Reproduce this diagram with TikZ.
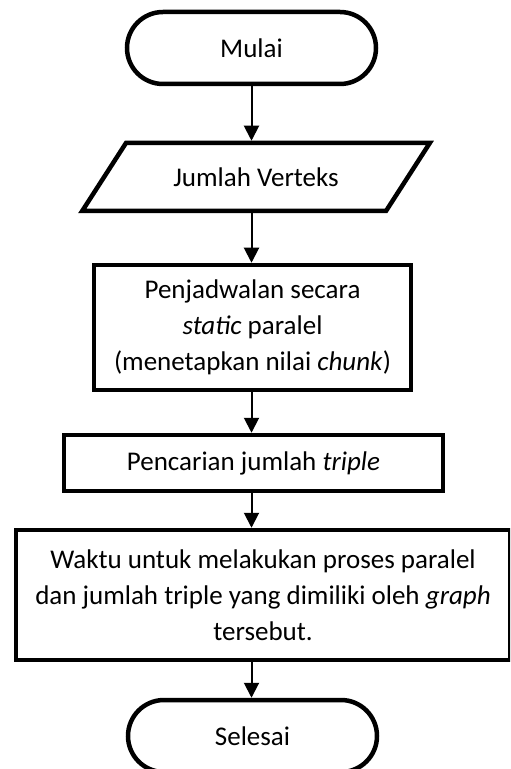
\documentclass[tikz,border=0pt]{standalone}
\usepackage{fontspec}
\setmainfont{Carlito}
\usetikzlibrary{arrows.meta,shapes.geometric}

\begin{document}
\begin{tikzpicture}[x=0.5pt,y=-0.5pt,
 font=\fontsize{13.5}{18}\selectfont,
 terminal/.style={draw,line width=2.25pt,rounded corners=18pt,
   minimum width=124.5pt,minimum height=36pt},
 io/.style={draw,line width=2.25pt,trapezium,trapezium left angle=47,
   trapezium right angle=133,trapezium stretches=true,
   minimum width=174pt,minimum height=34pt},
 process/.style={draw,line width=2.25pt,align=center},
 flow/.style={-{Triangle[length=7.5pt,width=7.5pt]},line width=1pt}]

% page = 510 x 769 px, one unit per pixel
\clip (0,0) rectangle (510,769);
\node[terminal] (mulai) at (251.5,48) {Mulai};
\node[io] (verteks) at (256,177) {Jumlah Verteks};
\node[process,minimum width=158.5pt,minimum height=62.5pt] (jadwal) at (252.5,327.5)
  {Penjadwalan secara\\ \textit{static} paralel\\ (menetapkan nilai \textit{chunk})};
\node[process,minimum width=189.5pt,minimum height=28pt] (cari) at (253.5,463)
  {Pencarian jumlah \textit{triple}};
\node[process,minimum width=247pt,minimum height=65pt] (waktu) at (263,595)
  {Waktu untuk melakukan proses paralel\\ dan jumlah triple yang dimiliki oleh \textit{graph}\\ tersebut.};
\node[terminal] (selesai) at (252.5,736) {Selesai};

\draw[flow] (mulai.south) -- (mulai.south |- verteks.north);
\draw[flow] (mulai.south |- verteks.south) -- (mulai.south |- jadwal.north);
\draw[flow] (mulai.south |- jadwal.south) -- (mulai.south |- cari.north);
\draw[flow] (mulai.south |- cari.south) -- (mulai.south |- waktu.north);
\draw[flow] (mulai.south |- waktu.south) -- (mulai.south |- selesai.north);
\end{tikzpicture}
\end{document}
